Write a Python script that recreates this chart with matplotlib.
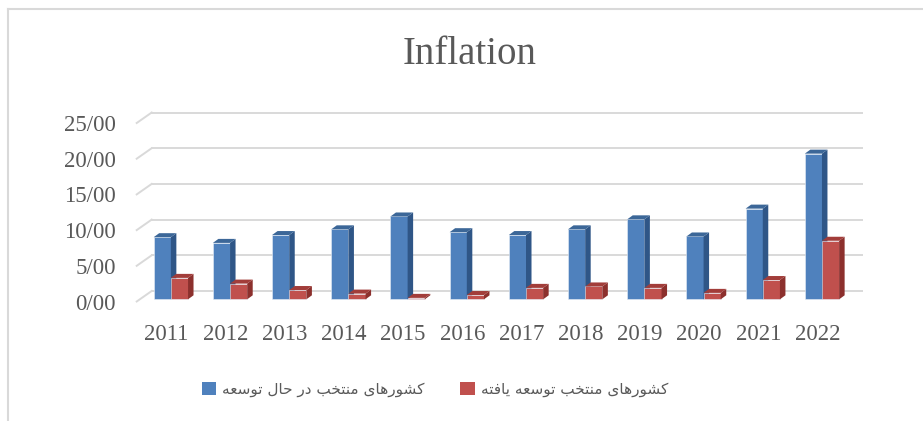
import matplotlib
matplotlib.use("Agg")
import matplotlib.pyplot as plt
from matplotlib.patches import Polygon, Rectangle
from matplotlib.lines import Line2D
from matplotlib.transforms import offset_copy

# data
years = ["2011", "2012", "2013", "2014", "2015", "2016",
         "2017", "2018", "2019", "2020", "2021", "2022"]
developing = [8.7, 7.9, 9.0, 9.8, 11.6, 9.4, 9.0, 9.8, 11.2, 8.8, 12.7, 20.4]
developed = [3.0, 2.2, 1.3, 0.8, 0.2, 0.6, 1.6, 1.8, 1.6, 0.9, 2.7, 8.2]
y_ticks = [0, 5, 10, 15, 20, 25]
title = "Inflation"
label_developing = "کشورهای منتخب در حال توسعه"
label_developed = "کشورهای منتخب توسعه یافته"

# --- simple arabic/persian shaping (no reshaper lib available) ---
FORMS = {  # isolated, final, initial, medial
    "ا": ("\uFE8D", "\uFE8E", None, None),
    "ب": ("\uFE8F", "\uFE90", "\uFE91", "\uFE92"),
    "ت": ("\uFE95", "\uFE96", "\uFE97", "\uFE98"),
    "ح": ("\uFEA1", "\uFEA2", "\uFEA3", "\uFEA4"),
    "خ": ("\uFEA5", "\uFEA6", "\uFEA7", "\uFEA8"),
    "د": ("\uFEA9", "\uFEAA", None, None),
    "ر": ("\uFEAD", "\uFEAE", None, None),
    "س": ("\uFEB1", "\uFEB2", "\uFEB3", "\uFEB4"),
    "ش": ("\uFEB5", "\uFEB6", "\uFEB7", "\uFEB8"),
    "ع": ("\uFEC9", "\uFECA", "\uFECB", "\uFECC"),
    "ف": ("\uFED1", "\uFED2", "\uFED3", "\uFED4"),
    "ل": ("\uFEDD", "\uFEDE", "\uFEDF", "\uFEE0"),
    "م": ("\uFEE1", "\uFEE2", "\uFEE3", "\uFEE4"),
    "ن": ("\uFEE5", "\uFEE6", "\uFEE7", "\uFEE8"),
    "ه": ("\uFEE9", "\uFEEA", "\uFEEB", "\uFEEC"),
    "و": ("\uFEED", "\uFEEE", None, None),
    "ی": ("\uFBFC", "\uFBFD", "\uFBFE", "\uFBFF"),
    "ک": ("\uFB8E", "\uFB8F", "\uFB90", "\uFB91"),
}


def shape(text):
    out = []
    for i, ch in enumerate(text):
        if ch not in FORMS:
            out.append(ch)
            continue
        prev = text[i - 1] if i > 0 else None
        nxt = text[i + 1] if i + 1 < len(text) else None
        f = FORMS[ch]
        j_prev = prev in FORMS and FORMS[prev][2] is not None
        j_next = f[2] is not None and nxt in FORMS
        if j_prev and j_next:
            out.append(f[3])
        elif j_prev:
            out.append(f[1])
        elif j_next:
            out.append(f[2])
        else:
            out.append(f[0])
    return "".join(out)[::-1]


W, H = 923, 421
fig = plt.figure(figsize=(W / 100, H / 100), dpi=100)

# front plane of the pseudo 3d box, in pixels
left_px, right_px = 136.7, 847.0
bot_px, top_px = 301.5, 123.0
ax = fig.add_axes([left_px / W, 1 - bot_px / H,
                   (right_px - left_px) / W, (bot_px - top_px) / H])
n = len(years)
ax.set_xlim(-0.5, n - 0.5)
ax.set_ylim(0, 25)
for s in ax.spines.values():
    s.set_visible(False)

xpx = (right_px - left_px) / n      # pixels per category
ypx = (bot_px - top_px) / 25        # pixels per unit

# back wall gridlines + the diagonal floor/wall edges
wall_dx, wall_dy = 15 / xpx, 10.5 / ypx
grid_c = "#d9d9d9"
for v in y_ticks:
    ax.plot([-0.5 + wall_dx, n - 0.5 + wall_dx], [v + wall_dy, v + wall_dy],
            color=grid_c, lw=1.4, clip_on=False, zorder=1)
    ax.plot([-0.5, -0.5 + wall_dx], [v, v + wall_dy],
            color=grid_c, lw=1.4, clip_on=False, zorder=1)

# bars sit a little behind the front plane
bar_tr = offset_copy(ax.transData, fig=fig, x=0, y=2.2, units="dots")

# bars with side and top faces
bw = 0.29
depth_dx, depth_dy = 5.5 / xpx, 4.0 / ypx
series = [
    (developing, -0.068, "#4f81bd", "#2f5687", "#3c6798"),
    (developed, 0.222, "#c0504d", "#8c302d", "#a23d3a"),
]
z = 2
for i in range(n):
    for vals, off, front, side, top in series:
        v = vals[i]
        x0 = i + off - bw / 2
        x1 = x0 + bw
        ax.add_patch(Rectangle((x0, 0), bw, v, facecolor=front, transform=bar_tr,
                               edgecolor="#e8eef7", lw=0.4, zorder=z, clip_on=False))
        ax.add_patch(Polygon([(x1, 0), (x1, v), (x1 + depth_dx, v + depth_dy),
                              (x1 + depth_dx, depth_dy)], transform=bar_tr,
                             closed=True, facecolor=side, edgecolor="none",
                             zorder=z, clip_on=False))
        ax.add_patch(Polygon([(x0, v), (x1, v), (x1 + depth_dx, v + depth_dy),
                              (x0 + depth_dx, v + depth_dy)], transform=bar_tr,
                             closed=True, facecolor=top, edgecolor="none",
                             zorder=z, clip_on=False))
        z += 1

tick_font = {"family": "Liberation Serif", "size": 16.5, "color": "#595959"}
ax.set_yticks(y_ticks)
ax.set_yticklabels(["%d/00" % t for t in y_ticks], **tick_font)
ax.set_xticks(range(n))
ax.set_xticklabels(years, **tick_font)
ax.tick_params(axis="both", length=0)
ax.tick_params(axis="y", pad=15)
ax.tick_params(axis="x", pad=16)

fig.text(470 / W, 1 - 55 / H, title, ha="center", va="center",
         family="Liberation Serif", size=28, color="#595959")

# legend
handles = [Rectangle((0, 0), 1, 1, facecolor="#4f81bd"),
           Rectangle((0, 0), 1, 1, facecolor="#c0504d")]
leg = fig.legend(handles, [shape(label_developing), shape(label_developed)],
                 loc="center", bbox_to_anchor=(435 / W, 1 - 389 / H), ncol=2,
                 frameon=False, handlelength=0.95, handleheight=0.95,
                 handletextpad=0.4, columnspacing=2.3,
                 prop={"family": "DejaVu Sans", "size": 11})
for t in leg.get_texts():
    t.set_color("#595959")

# chart area border (cropped on the right and bottom)
border = "#d9d9d9"
fig.add_artist(Line2D([8 / W, 8 / W], [0, 1 - 9 / H], color=border, lw=1.5,
                      transform=fig.transFigure))
fig.add_artist(Line2D([8 / W, 1], [1 - 9 / H, 1 - 9 / H], color=border, lw=1.5,
                      transform=fig.transFigure))

fig.savefig("out.png", dpi=100)
